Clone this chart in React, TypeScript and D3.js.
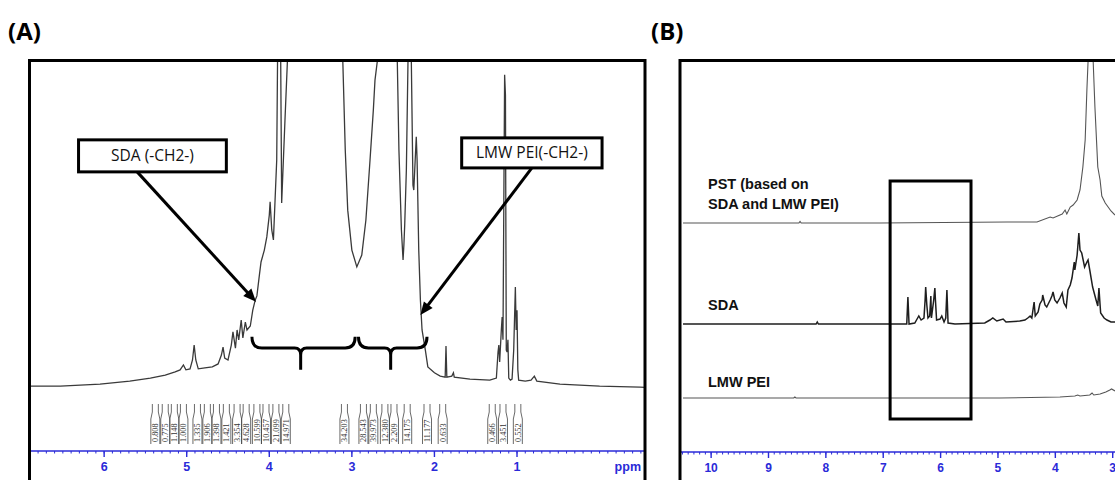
import React from 'react';
import * as d3 from 'd3';

const W = 1115;
const H = 480;

// ---------- Panel A: 1H NMR spectrum of PST (ppm, intensity) ----------
const spectrumA: [number, number][] = [
  [6.91, 1.2], [6.53, 1.2], [6.05, 1.8], [5.69, 2.7], [5.44, 3.6], [5.26, 4.5], [5.14, 5.5],
  [5.08, 6.1], [5.04, 7.6], [5.01, 6.1], [4.96, 6.4], [4.93, 9.1], [4.91, 13.6], [4.89, 9.1],
  [4.86, 6.4], [4.78, 6.7], [4.69, 7.0], [4.62, 7.9], [4.58, 10.6], [4.56, 13.0], [4.54, 9.7],
  [4.50, 9.1], [4.46, 13.6], [4.44, 17.6], [4.41, 12.7], [4.39, 18.2], [4.37, 15.2], [4.34, 21.2],
  [4.32, 15.8], [4.29, 20.6], [4.27, 18.2], [4.23, 19.4], [4.20, 24.2], [4.17, 27.3], [4.15, 28.5],
  [4.12, 34.8], [4.10, 38.8], [4.06, 42.4], [4.03, 46.4], [4.00, 53.0], [3.99, 57.0], [3.97, 48.5],
  [3.95, 45.5], [3.93, 57.6], [3.91, 69.7], [3.89, 130], [3.87, 130], [3.85, 56.7], [3.81, 81.8],
  [3.78, 100], [3.77, 140], [3.14, 140], [3.11, 100], [3.08, 72.7], [3.05, 54.5], [3.00, 42.4],
  [2.94, 37.3], [2.88, 40.9], [2.83, 51.5], [2.78, 69.7], [2.74, 84.8], [2.72, 93.9], [2.69, 100],
  [2.68, 140], [2.48, 140], [2.45, 100], [2.43, 72.7], [2.40, 48.5], [2.38, 39.4], [2.37, 43.9],
  [2.36, 50.0], [2.34, 66.7], [2.32, 100], [2.31, 130], [2.28, 100], [2.26, 62.1], [2.25, 60.6],
  [2.22, 76.7], [2.21, 69.7], [2.19, 42.4], [2.17, 27.3], [2.15, 18.2], [2.11, 12.1], [2.08, 7.0],
  [2.00, 5.2], [1.93, 4.2], [1.87, 3.9], [1.86, 13.3], [1.85, 3.9], [1.79, 4.2], [1.77, 5.2],
  [1.76, 3.9], [1.57, 3.3], [1.33, 3.0], [1.25, 3.6], [1.23, 11.5], [1.22, 13.6], [1.21, 8.5],
  [1.19, 18.2], [1.18, 22.1], [1.17, 15.2], [1.15, 95.5], [1.14, 89.4], [1.13, 12.1], [1.12, 11.5],
  [1.11, 15.2], [1.10, 3.6], [1.08, 3.0], [1.06, 3.3], [1.04, 12.1], [1.02, 31.2], [1.01, 18.2],
  [1.00, 24.2], [0.99, 6.1], [0.98, 3.0], [0.90, 2.7], [0.83, 3.0], [0.79, 4.2], [0.76, 2.7],
  [0.48, 1.8], [0.00, 1.2], [-0.49, 0.9], [-0.55, 0.8],
];

const integralValues = [
  '0.808', '0.775', '1.148', '1.000', '1.335', '1.906', '1.398', '1.421', '3.354', '4.628',
  '10.599', '10.457', '21.099', '14.971', '34.203', '28.543', '39.973', '12.380', '2.209',
  '14.175', '11.177', '0.633', '0.466', '3.451', '0.552',
];
const integralPpm = [
  5.38, 5.26, 5.15, 5.04, 4.87, 4.75, 4.64, 4.52, 4.39, 4.28,
  4.15, 4.04, 3.92, 3.80, 3.09, 2.86, 2.74, 2.60, 2.49,
  2.33, 2.09, 1.90, 1.30, 1.17, 0.99,
];

const ticksA = [6, 5, 4, 3, 2, 1];
const ticksB = [10, 9, 8, 7, 6, 5, 4, 3];

// Annotation labels of panel A (ppm, intensity)
const calloutText = ['SDA (-CH2-)', 'LMW PEI(-CH2-)'];
const calloutBox = [
  [6.31, 4.52, 75.8, 66.1],
  [1.67, -0.03, 76.4, 67.3],
];
const calloutArrow = [
  [5.60, 66.1, 4.16, 26.7],
  [0.82, 67.3, 2.17, 22.7],
];
// braces: [left ppm, centre ppm, right ppm]
const braces = [
  [4.21, 3.62, 2.96],
  [2.92, 2.53, 2.09],
];

// ---------- Panel B: stacked spectra (ppm, intensity above own baseline) ----------
const pstTrace: [number, number][] = [
  [10.49, 0], [8.47, 0], [8.45, 1.5], [8.43, 0], [7.06, 0], [4.84, 1], [4.32, 1], [4.09, 6],
  [4.04, 5], [3.88, 9], [3.83, 13], [3.80, 9], [3.74, 16], [3.69, 18], [3.62, 23], [3.57, 33],
  [3.52, 56], [3.48, 83], [3.45, 133], [3.43, 161], [3.42, 203], [3.35, 203], [3.34, 161],
  [3.31, 116], [3.26, 56], [3.22, 43], [3.19, 27], [3.13, 20], [3.08, 16], [3.03, 12], [2.96, 8],
];
const sdaTrace: [number, number][] = [
  [10.49, 0], [8.17, 0], [8.15, 2], [8.13, 0], [6.71, 0], [6.59, 0], [6.57, 27], [6.55, 0],
  [6.45, 1], [6.41, 5], [6.38, 8], [6.34, 4], [6.29, 6], [6.27, 24], [6.26, 37], [6.24, 19],
  [6.22, 6], [6.19, 8], [6.17, 28], [6.16, 6], [6.12, 24], [6.10, 36], [6.09, 24], [6.07, 4],
  [6.01, 5], [5.98, 8], [5.94, 2], [5.91, 6], [5.89, 34], [5.87, 1], [5.75, 0], [5.23, 1],
  [5.14, 4], [5.09, 6], [5.02, 3], [4.91, 5], [4.86, 2], [4.62, 3], [4.53, 4], [4.48, 6],
  [4.44, 8], [4.41, 6], [4.37, 22], [4.35, 8], [4.30, 12], [4.27, 20], [4.23, 24], [4.22, 29],
  [4.18, 19], [4.15, 17], [4.09, 24], [4.06, 28], [4.04, 32], [4.01, 24], [3.97, 21], [3.92, 26],
  [3.88, 31], [3.85, 21], [3.81, 17], [3.78, 34], [3.74, 39], [3.71, 46], [3.67, 62], [3.66, 54],
  [3.62, 69], [3.59, 91], [3.57, 74], [3.54, 71], [3.49, 57], [3.45, 62], [3.43, 64], [3.40, 54],
  [3.35, 37], [3.29, 24], [3.26, 18], [3.24, 36], [3.22, 19], [3.21, 11], [3.15, 6], [3.10, 4],
  [3.03, 2], [2.96, 2],
];
const peiTrace: [number, number][] = [
  [10.49, 0], [8.56, 0], [8.54, 1], [8.52, 0], [4.97, 0], [3.92, 1], [3.66, 2], [3.61, 3],
  [3.57, 2], [3.40, 3], [3.36, 5], [3.33, 3], [3.22, 4], [3.12, 6], [3.05, 8], [3.02, 9], [2.96, 7],
];
const traceNames = [['PST (based on', 'SDA and LMW PEI)'], ['SDA'], ['LMW PEI']];
const traceOffsets = [207, 106, 32];
const traceLabelLift = [34, 14, 11];
const boxB = [6.88, 5.47, 249, 11];

const BLUE = '#2a2ad8';

export default function App() {
  const xA = d3.scaleLinear().domain([6.91, -0.55]).range([29, 645]);
  const yA = d3.scaleLinear().domain([0, 100]).range([390, 60]);
  const xB = d3.scaleLinear().domain([10.56, 2.96]).range([679, 1115]);
  const yB = d3.scaleLinear().domain([0, 370]).range([430, 60]);

  const lineA = d3.line<[number, number]>().x(d => xA(d[0])).y(d => yA(d[1]));
  const lineB = (off: number) =>
    d3.line<[number, number]>().x(d => xB(d[0])).y(d => yB(d[1] + off));

  const axisY = 451;
  const minorA = d3.range(-5, 70).map(v => v / 10);
  const minorB = d3.range(30, 106).map(v => v / 10);

  const arrowHead = (x1: number, y1: number, x2: number, y2: number) => {
    const a = Math.atan2(y2 - y1, x2 - x1);
    const L = 13, w = 5.5;
    const bx = x2 - L * Math.cos(a), by = y2 - L * Math.sin(a);
    const px = -Math.sin(a) * w, py = Math.cos(a) * w;
    return `M${x2},${y2}L${bx + px},${by + py}L${bx - px},${by - py}Z`;
  };

  const bracePath = (l: number, c: number, r: number) => {
    const xl = xA(l), xc = xA(c), xr = xA(r);
    const yt = yA(16.1), yh = yA(12.7), yb = yA(6.1);
    return `M${xl},${yt}Q${xl},${yh} ${xl + 10},${yh}L${xc - 6},${yh}Q${xc},${yh} ${xc},${yh + 7}L${xc},${yb}` +
      `M${xc},${yh + 7}Q${xc},${yh} ${xc + 6},${yh}L${xr - 10},${yh}Q${xr},${yh} ${xr},${yt}`;
  };

  const traces = [pstTrace, sdaTrace, peiTrace];
  const traceColor = ['#555', '#1e1e1e', '#555'];
  const traceWidth = [1.1, 1.5, 1.1];

  return (
    <svg width={W} height={H} style={{ position: 'absolute', left: 0, top: 0, background: '#fff' }}>
      <defs>
        <clipPath id="clipA"><rect x={29} y={60} width={616} height={390} /></clipPath>
        <clipPath id="clipB"><rect x={679} y={60} width={436} height={390} /></clipPath>
      </defs>
      <rect x={0} y={0} width={W} height={H} fill="#fff" />

      {/* panel titles */}
      <text x={8} y={40} fontFamily="Open Sans" fontWeight={700} fontSize={24}>(A)</text>
      <text x={651} y={40} fontFamily="Open Sans" fontWeight={700} fontSize={24}>(B)</text>

      {/* ---------- Panel A ---------- */}
      <path d={lineA(spectrumA) || ''} fill="none" stroke="#3a3a3a" strokeWidth={1.3} clipPath="url(#clipA)" />

      {/* integration labels */}
      {integralPpm.map((p, i) => {
        const x = xA(p);
        const d = `M${x - 4.5},444L${x - 4.5},419L${x - 3},412L${x - 3},404M${x + 4.5},444L${x + 4.5},419L${x + 3},412L${x + 3},404`;
        return (
          <g key={i}>
            <path d={d} fill="none" stroke="#444" strokeWidth={0.8} />
            <text transform={`translate(${x + 2.9},442) rotate(-90)`} fontFamily="Liberation Serif" fontSize={8.3} fill="#333">
              {integralValues[i]}
            </text>
          </g>
        );
      })}

      {/* braces */}
      {braces.map((b, i) => (
        <path key={i} d={bracePath(b[0], b[1], b[2])} fill="none" stroke="#000" strokeWidth={3} />
      ))}

      {/* callouts */}
      {calloutText.map((t, i) => {
        const [l, r, tp, bt] = calloutBox[i];
        const [a1, b1, a2, b2] = calloutArrow[i];
        const x1 = xA(a1), y1 = yA(b1), x2 = xA(a2), y2 = yA(b2);
        const a = Math.atan2(y2 - y1, x2 - x1);
        return (
          <g key={i}>
            <line x1={x1} y1={y1} x2={x2 - 10 * Math.cos(a)} y2={y2 - 10 * Math.sin(a)} stroke="#000" strokeWidth={3} />
            <path d={arrowHead(x1, y1, x2, y2)} fill="#000" />
            <rect x={xA(l)} y={yA(tp)} width={xA(r) - xA(l)} height={yA(bt) - yA(tp)} fill="#fff" stroke="#000" strokeWidth={3} />
            <text x={(xA(l) + xA(r)) / 2} y={(yA(tp) + yA(bt)) / 2 + 5.5} textAnchor="middle" fontFamily="Open Sans" fontSize={15.5} fill="#111">
              {t}
            </text>
          </g>
        );
      })}

      {/* axis A */}
      <line x1={31} x2={645} y1={axisY} y2={axisY} stroke={BLUE} strokeWidth={1.4} />
      {minorA.map((m, i) => (
        <line key={i} x1={xA(m)} x2={xA(m)} y1={axisY} y2={axisY + 2.5} stroke={BLUE} strokeWidth={1} />
      ))}
      {ticksA.map(t => (
        <g key={t}>
          <line x1={xA(t)} x2={xA(t)} y1={axisY} y2={axisY + 6} stroke={BLUE} strokeWidth={1.4} />
          <text x={xA(t)} y={471} textAnchor="middle" fontFamily="Liberation Sans" fontWeight={700} fontSize={12.5} fill={BLUE}>{t}</text>
        </g>
      ))}
      <text x={641} y={471} textAnchor="end" fontFamily="Liberation Sans" fontWeight={700} fontSize={12.5} fill={BLUE}>ppm</text>

      {/* frame A */}
      <path d={`M29.5,480L29.5,60.5L645,60.5L645,480`} fill="none" stroke="#000" strokeWidth={3} />

      {/* ---------- Panel B ---------- */}
      {traces.map((tr, i) => (
        <path key={i} d={lineB(traceOffsets[i])(tr) || ''} fill="none" stroke={traceColor[i]} strokeWidth={traceWidth[i]} clipPath="url(#clipB)" />
      ))}
      {traceNames.map((lines, i) => (
        <text key={i} fontFamily="Liberation Sans" fontWeight={700} fontSize={14.5} fill="#111">
          {lines.map((ln, j) => (
            <tspan key={j} x={708} y={yB(traceOffsets[i] + traceLabelLift[i]) + j * 20}>{ln}</tspan>
          ))}
        </text>
      ))}
      <rect x={xB(boxB[0])} y={yB(boxB[2])} width={xB(boxB[1]) - xB(boxB[0])} height={yB(boxB[3]) - yB(boxB[2])}
        fill="none" stroke="#000" strokeWidth={3} />

      {/* axis B */}
      <line x1={681} x2={1115} y1={axisY + 1} y2={axisY + 1} stroke={BLUE} strokeWidth={1.4} />
      {minorB.map((m, i) => (
        <line key={i} x1={xB(m)} x2={xB(m)} y1={axisY + 1} y2={axisY + 3.5} stroke={BLUE} strokeWidth={1} />
      ))}
      {ticksB.map(t => (
        <g key={t}>
          <line x1={xB(t)} x2={xB(t)} y1={axisY + 1} y2={axisY + 7} stroke={BLUE} strokeWidth={1.4} />
          <text x={xB(t)} y={472} textAnchor="middle" fontFamily="Liberation Sans" fontWeight={700} fontSize={12} fill={BLUE}>{t}</text>
        </g>
      ))}

      {/* frame B */}
      <path d={`M680,480L680,60.5L1115,60.5`} fill="none" stroke="#000" strokeWidth={3} />
    </svg>
  );
}
